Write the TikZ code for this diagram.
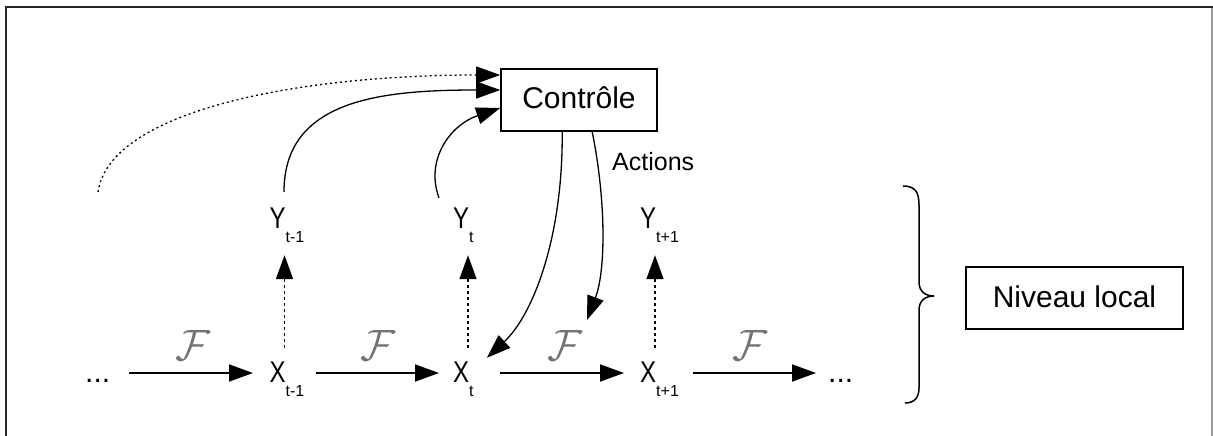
\documentclass[tikz,border=0pt]{standalone}
\usepackage{fontspec}
\setmainfont{Liberation Sans}
\usepackage{graphicx}
\usetikzlibrary{arrows.meta}

\newcommand{\nrw}[1]{\scalebox{0.8}[1]{#1}}
\newcommand{\sbx}[1]{\raisebox{-14pt}{\fontsize{16}{16}\selectfont #1}}
\newcommand{\scrF}{\resizebox{35pt}{30pt}{$\mathcal{F}$}}

\begin{document}
\begin{tikzpicture}[x=1pt,y=-1pt,
 lab/.style={inner sep=0pt, text height=22pt, text depth=4pt, anchor=base west, font=\fontsize{30}{36}\selectfont},
 box/.style={draw, line width=1.6pt, inner sep=0pt, font=\fontsize{30}{36}\selectfont},
 tip/.style={-{Triangle[length=24pt,width=17pt]}},
 harr/.style={tip, line width=1.8pt},
 varr/.style={tip, line width=1.6pt, dash pattern=on 3pt off 3pt},
 carr/.style={tip, line width=1.3pt},
 flab/.style={inner sep=0pt, text=black!55}
]
\useasboundingbox (0,0) rectangle (1213,436);
% frame
\draw[line width=2pt, black!85] (5.5,436) -- (5.5,7.5) -- (1213,7.5);
\draw[line width=2pt, black!40] (1212,8) -- (1212,436);

% boxes
\node[box, minimum width=156pt, minimum height=62pt, text height=22pt, text depth=6pt] (ctl) at (579,100) {Contrôle};
\node[box, minimum width=217pt, minimum height=62pt, text height=22pt, text depth=4pt] (niv) at (1074.5,298) {Niveau local};

% labels
\node[lab] (dl) at (85,382) {...};
\node[lab] (xa) at (269.5,382) {\nrw{X}\sbx{t-1}};
\node[lab] (xb) at (453,382) {\nrw{X}\sbx{t}};
\node[lab] (xc) at (640,382) {\nrw{X}\sbx{t+1}};
\node[lab] (dr) at (828,382) {...};
\node[lab] (ya) at (269.5,228) {\nrw{Y}\sbx{t-1}};
\node[lab] (yb) at (453,228) {\nrw{Y}\sbx{t}};
\node[lab] (yc) at (640,228) {\nrw{Y}\sbx{t+1}};
\node[anchor=base west, inner sep=0pt, font=\fontsize{25}{30}\selectfont] (act) at (612,170) {Actions};

\node[flab] (f1) at (193,345) {\scrF};
\node[flab] (f2) at (378,345) {\scrF};
\node[flab] (f3) at (565,345) {\scrF};
\node[flab] (f4) at (750,345) {\scrF};

% horizontal transitions
\draw[harr] ([xshift=19pt]dl.east) -- ([xshift=-16.5pt]xa.west);
\draw[harr] ([xshift=11pt]xa.east) -- ([xshift=-14pt]xb.west);
\draw[harr] ([xshift=26pt]xb.east) -- ([xshift=-16pt]xc.west);
\draw[harr] ([xshift=14pt]xc.east) -- ([xshift=-12pt]dr.west);

% observations
\draw[varr] ([xshift=15pt,yshift=12pt]xa.north west) -- ([xshift=15pt,yshift=-23pt]ya.south west);
\draw[varr] ([xshift=15pt,yshift=12pt]xb.north west) -- ([xshift=15pt,yshift=-23pt]yb.south west);
\draw[varr] ([xshift=15pt,yshift=12pt]xc.north west) -- ([xshift=15pt,yshift=-23pt]yc.south west);

% control inputs
\coordinate (dst) at (98,192);
\draw[carr, dash pattern=on 2pt off 3pt] (dst) .. controls (110,110) and (300,75) .. ([yshift=25pt]ctl.west);
\draw[carr] ([xshift=14.5pt,yshift=14pt]ya.north west) .. controls (284,100) and (380,90) .. ([yshift=10pt]ctl.west);
\draw[carr] ([xshift=-14pt,yshift=8pt]yb.north west) .. controls (425,160) and (450,125) .. ([yshift=-8pt]ctl.west);

% actions
\draw[carr] ([xshift=62pt]ctl.south west) .. controls (563,240) and (532,316) .. ([xshift=13pt,yshift=2pt]xb.north east);
\coordinate (aend) at (587,320);
\draw[carr] ([xshift=92pt]ctl.south west) .. controls (606,200) and (606,270) .. (aend);

% brace
\draw[line width=1.5pt] (903,186) .. controls (915,186) and (919,192) .. (919,205) -- (919,282)
  .. controls (919,292) and (926,296) .. (934,296)
  .. controls (926,296) and (919,300) .. (919,310) -- (919,388)
  .. controls (919,398) and (914,403) .. (905,403);
\end{tikzpicture}
\end{document}
